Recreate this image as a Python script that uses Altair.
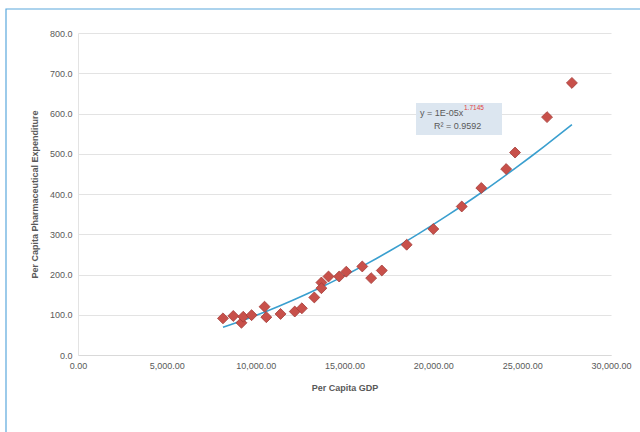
import altair as alt
import pandas as pd

gdp = [8160, 8740, 9200, 9300, 9770, 10500, 10600, 11400, 12200, 12600,
       13300, 13700, 13700, 14100, 14700, 15100, 16000, 16500, 17100,
       18500, 20000, 21600, 22700, 24100, 24600, 26400, 27800]
pharma = [91, 97, 80, 95, 99, 120, 94, 102, 108, 116,
          143, 180, 166, 195, 195, 207, 220, 191, 210,
          274, 313, 369, 415, 462, 503, 591, 676]

x_ticks = [0, 5000, 10000, 15000, 20000, 25000, 30000]
y_ticks = [0, 100, 200, 300, 400, 500, 600, 700, 800]

eq_main = ["y = 1E-05x"]
eq_exp = ["1.7145"]
eq_r2 = ["R² = 0.9592"]

df = pd.DataFrame({"gdp": gdp, "pharma": pharma})

W, H = 533, 322
font = "Liberation Sans"
grey = "#595959"

xenc = alt.X("gdp:Q", scale=alt.Scale(domain=[0, 30000], nice=False),
             axis=alt.Axis(values=x_ticks, format=",.2f", title="Per Capita GDP",
                           grid=False, domainColor="#d9d9d9", ticks=False,
                           labelFlush=False, labelOverlap=False,
                           labelFont=font, labelFontSize=9, labelColor=grey,
                           labelPadding=6, titleFont=font, titleFontSize=9,
                           titleColor=grey, titleFontWeight="bold", titlePadding=13))
yenc = alt.Y("pharma:Q", scale=alt.Scale(domain=[0, 800], nice=False),
             axis=alt.Axis(values=y_ticks, format=".1f",
                           title="Per Capita Pharmaceutical Expenditure",
                           grid=True, gridColor="#e3e3e3", gridWidth=1.2,
                           domainColor="#e3e3e3", ticks=False,
                           labelFlush=False,
                           labelFont=font, labelFontSize=9, labelColor=grey,
                           labelPadding=6, titleFont=font, titleFontSize=9,
                           titleColor=grey, titleFontWeight="bold", titlePadding=10))

base = alt.Chart(df)

points = base.mark_point(shape="diamond", filled=True, color="#c8504a",
                         stroke="#a33c38", strokeWidth=0.8, size=120, opacity=1).encode(x=xenc, y=yenc)

trend = base.transform_regression("gdp", "pharma", method="pow").mark_line(
    color="#3a9fcf", strokeWidth=1.6).encode(x="gdp:Q", y="pharma:Q")

box = alt.Chart(pd.DataFrame({"a": [0]})).mark_rect(color="#dce6f0").encode(
    x=alt.value(338), x2=alt.value(424), y=alt.value(70), y2=alt.value(102))

t1 = alt.Chart(pd.DataFrame({"t": eq_main})).mark_text(
    font=font, fontSize=9, color=grey, align="left", baseline="middle").encode(
    x=alt.value(342), y=alt.value(80), text="t:N")
t2 = alt.Chart(pd.DataFrame({"t": eq_exp})).mark_text(
    font=font, fontSize=6.5, color="#e04040", align="left", baseline="middle").encode(
    x=alt.value(386), y=alt.value(75), text="t:N")
t3 = alt.Chart(pd.DataFrame({"t": eq_r2})).mark_text(
    font=font, fontSize=9, color=grey, align="left", baseline="middle").encode(
    x=alt.value(356), y=alt.value(93), text="t:N")

frame = alt.Chart(pd.DataFrame({"a": [0]})).mark_rect(
    fill=None, stroke="#5aa8dc", strokeWidth=1.2).encode(
    x=alt.value(-72), x2=alt.value(600), y=alt.value(-24), y2=alt.value(420))

chart = alt.layer(frame, trend, points, box, t1, t2, t3).properties(
    width=W, height=H,
    autosize=alt.AutoSizeParams(type="none"),
    padding={"left": 78, "top": 33, "right": 29, "bottom": 77},
    background="white",
).configure_view(stroke=None)

chart.save("out.html", embed_options={"renderer": "svg", "actions": False})
